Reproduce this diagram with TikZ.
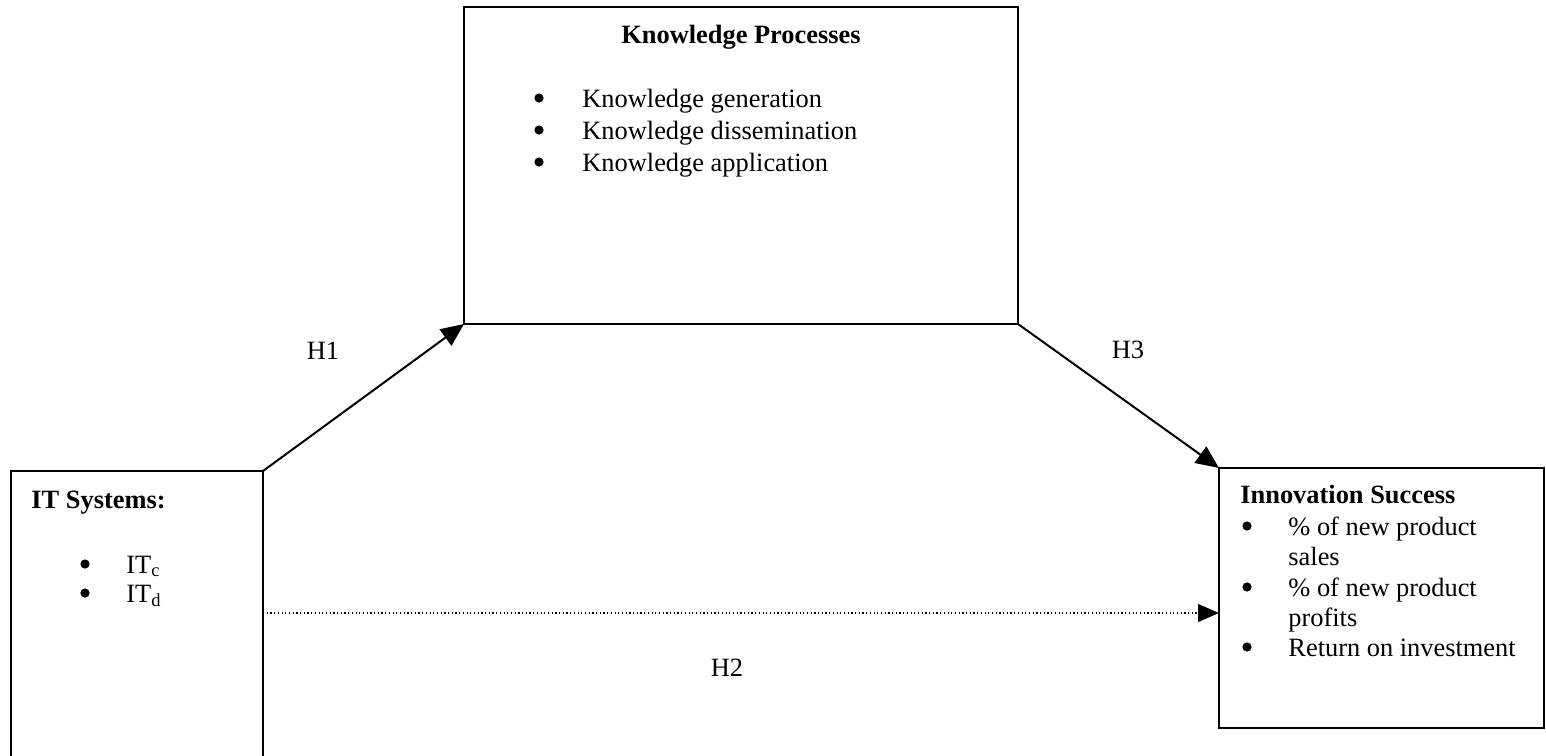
\documentclass[tikz,border=0pt]{standalone}
\usepackage{fontspec}
\setmainfont{Liberation Serif}
\usetikzlibrary{arrows.meta}
\begin{document}
\begin{tikzpicture}[x=0.5pt,y=-0.5pt,
  font=\fontsize{13.2}{16}\selectfont,
  box/.style={draw, line width=1pt, rectangle, inner sep=0pt, outer sep=0pt, anchor=north west},
  txt/.style={anchor=base west, inner sep=0pt},
  bul/.style={circle, fill, inner sep=0pt, minimum size=4.6pt},
  lab/.style={anchor=base, inner sep=0pt},
  arr/.style={line width=1pt, -{Triangle[length=11.5pt, width=10pt]}},
  dotarr/.style={line width=0.7pt, dash pattern=on 0.6pt off 1.25pt, -{Triangle[length=10.5pt, width=9pt, line width=0.5pt, sep=0pt]}}
]
\useasboundingbox (0,0) rectangle (1546,755);

% boxes
\node[box, minimum width=277pt, minimum height=158.5pt] (kp) at (464,7) {};
\node[box, minimum width=126pt, minimum height=144.5pt] (it) at (11,471) {};
\node[box, minimum width=162.5pt, minimum height=130pt] (inno) at (1219,468) {};

% Knowledge Processes text
\node[lab] (kpt) at (741,43) {\textbf{Knowledge Processes}};
\node[bul] (kb1) at (539,98) {};
\node[txt] (kl1) at (582,107) {Knowledge generation};
\node[bul] (kb2) at (539,130) {};
\node[txt] (kl2) at (582,139) {Knowledge dissemination};
\node[bul] (kb3) at (539,162) {};
\node[txt] (kl3) at (582,171) {Knowledge application};

% IT Systems text
\node[txt] (itt) at (31,508) {\textbf{IT Systems:}};
\node[bul] (ib1) at (85,564) {};
\node[txt] (il1) at (126,573) {IT\textsubscript{c}};
\node[bul] (ib2) at (85,593) {};
\node[txt] (il2) at (126,602) {IT\textsubscript{d}};

% Innovation Success text
\node[txt] (int) at (1240,503) {\textbf{Innovation Success}};
\node[bul] (nb1) at (1247,526) {};
\node[txt] (nl1) at (1288,535) {\% of new product};
\node[txt] (nl1b) at (1288,565) {sales};
\node[bul] (nb2) at (1247,587) {};
\node[txt] (nl2) at (1288,596) {\% of new product};
\node[txt] (nl2b) at (1288,626) {profits};
\node[bul] (nb3) at (1247,647) {};
\node[txt] (nl3) at (1288,656) {Return on investment};

% connectors
\draw[arr] (it.north east) -- (kp.south west);
\draw[arr] (kp.south east) -- (inno.north west);
\coordinate (h2y) at (0,613);
\draw[dotarr] (it.east |- h2y) -- (inno.west |- h2y);

% labels
\node[lab] (h1) at (323,359) {H1};
\node[lab] (h3) at (1128,358) {H3};
\node[lab] (h2) at (727,676) {H2};
\end{tikzpicture}
\end{document}
